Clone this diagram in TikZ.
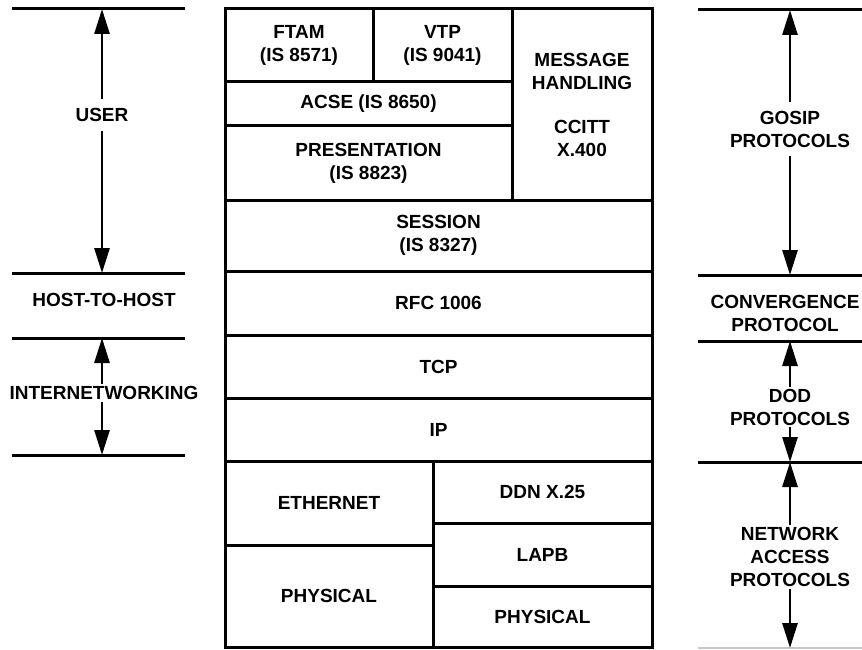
\documentclass[tikz,border=0pt]{standalone}
\usepackage{fontspec}
\setmainfont{Liberation Sans}
\usepackage{tikz}
\usetikzlibrary{arrows.meta,positioning}

\tikzset{
  txt/.style={font=\fontsize{19}{23}\selectfont\bfseries, align=center},
  layer/.style={txt, draw, line width=3pt, inner sep=0pt},
  level/.style={line width=3pt},
  span/.style={line width=2.8pt, -{Triangle[length=25pt,width=15pt]}},
  lbl/.style={txt, inner sep=9pt},
  tight/.style={txt, inner sep=2pt}
}

\begin{document}
\begin{tikzpicture}[x=1pt,y=-1pt]
			\useasboundingbox (0,0) rectangle (862,650);
			% protocol stack
			\foreach \n/\a/\b/\c/\d/\t in {
				ftam/225/9/373/82/{FTAM\\(IS 8571)},
				vtp/373/9/512/82/{VTP\\(IS 9041)},
				msg/512/9/652/200/{MESSAGE\\HANDLING\\[21pt]CCITT\\X.400},
				acse/225/82/512/126/{ACSE (IS 8650)},
				pres/225/126/512/200/{PRESENTATION\\(IS 8823)},
				sess/225/200/652/271/{SESSION\\(IS 8327)},
				rfc/225/271/652/335/{RFC 1006},
				tcp/225/335/652/398/{TCP},
				ip/225/398/652/461/{IP},
				eth/225/461/433/545/{ETHERNET},
				phya/225/545/433/647/{PHYSICAL},
				ddn/433/461/652/523/{DDN X.25},
				lapb/433/523/652/586/{LAPB},
				phyb/433/586/652/647/{PHYSICAL}} {
				\node[layer, minimum width={(\c-\a)*1pt}, minimum height={(\d-\b)*1pt}]
					(\n) at ({(\a+\c)/2},{(\b+\d)/2}) {\t};
			}
			% left levels
			\foreach \y in {9,273,338,455} {
				\draw[level] (12,\y) -- (185,\y);
			}
			\coordinate (userTop) at (102,9);
			\coordinate (userBot) at (102,273);
			\coordinate (inetTop) at (102,338);
			\coordinate (inetBot) at (102,455);
			\node[lbl] (user) at (102,115) {USER};
			\node[txt] (host) at (104,300) {HOST-TO-HOST};
			\node[tight] (inet) at (104,393) {INTERNETWORKING};
			\draw[span] (user) -- (userTop);
			\draw[span] (user) -- (userBot);
			\draw[span] (inet.north -| inetTop) -- (inetTop);
			\draw[span] (inet.south -| inetBot) -- (inetBot);
			% right levels
			\foreach \y in {10,275,341,462} {
				\draw[level] (698,\y) -- (862,\y);
			}
			\draw[gray!45, line width=1.2pt] (698,648) -- (862,648);
			\coordinate (gosipTop) at (790,10);
			\coordinate (gosipBot) at (790,275);
			\coordinate (dodTop) at (790,341);
			\coordinate (dodBot) at (790,462);
			\coordinate (netTop) at (790,462);
			\coordinate (netBot) at (790,648);
			\node[lbl] (gosip) at (790,129) {GOSIP\\PROTOCOLS};
			\node[txt] (conv) at (785,313) {CONVERGENCE\\PROTOCOL};
			\node[tight] (dod) at (790,407) {DOD\\PROTOCOLS};
			\node[tight] (net) at (790,557) {NETWORK\\ACCESS\\PROTOCOLS};
			\draw[span] (gosip) -- (gosipTop);
			\draw[span] (gosip) -- (gosipBot);
			\draw[span] (dod) -- (dodTop);
			\draw[span] (dod) -- (dodBot);
			\draw[span] (net) -- (netTop);
			\draw[span] (net) -- (netBot);
		\end{tikzpicture}
\end{document}
